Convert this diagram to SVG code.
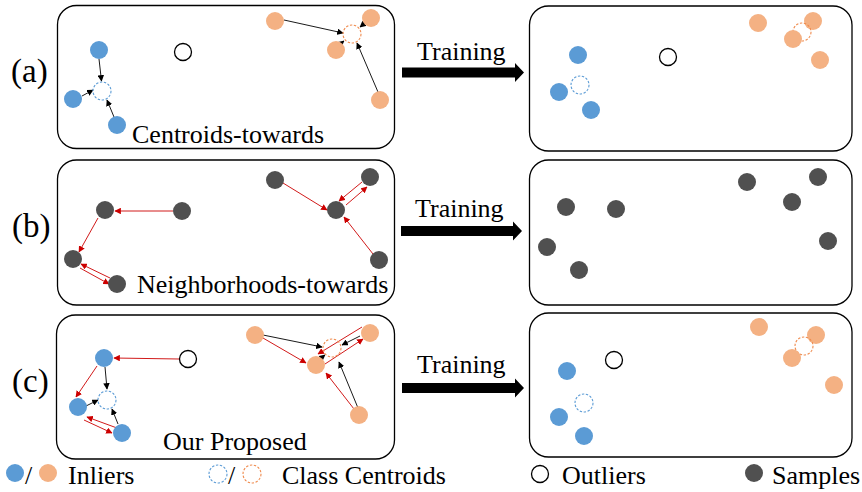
<svg xmlns="http://www.w3.org/2000/svg" width="862" height="492" viewBox="0 0 862 492">
<style>
text{font-family:"Liberation Serif","Times New Roman",serif;fill:#000}
.t{font-size:26px}
.lab{font-size:33px}
.box{fill:#fff;stroke:#000;stroke-width:1.3}
.b{fill:#5b9bd5}
.o{fill:#f4b183}
.g{fill:#505050}
.out{fill:#fff;stroke:#000;stroke-width:1.3}
.cb{fill:none;stroke:#5b9bd5;stroke-width:1.1;stroke-dasharray:2.4 1.6}
.co{fill:none;stroke:#ef8a4c;stroke-width:1.1;stroke-dasharray:2.4 1.6}
.k{stroke:#000;stroke-width:0.9;fill:none;marker-end:url(#ak)}
.r{stroke:#cc0000;stroke-width:0.9;fill:none;marker-end:url(#ar)}
.big{fill:#000}
</style>
<defs>
<marker id="ak" viewBox="0 0 10 10" refX="9" refY="5" markerWidth="6.5" markerHeight="6.5" markerUnits="userSpaceOnUse" orient="auto"><path d="M0,0 L10,5 L0,10 z" fill="#000"/></marker>
<marker id="ar" viewBox="0 0 10 10" refX="9" refY="5" markerWidth="6.5" markerHeight="6.5" markerUnits="userSpaceOnUse" orient="auto"><path d="M0,0 L10,5 L0,10 z" fill="#cc0000"/></marker>
</defs>

<!-- panels -->
<g id="panel-a-left"><rect class="box" x="57.5" y="5.5" width="337" height="143" rx="19"/></g>
<g id="panel-a-right"><rect class="box" x="529.5" y="6" width="322.5" height="145" rx="19"/></g>
<g id="panel-b-left"><rect class="box" x="57.5" y="160" width="337" height="145" rx="19"/></g>
<g id="panel-b-right"><rect class="box" x="529.5" y="160" width="322.5" height="145" rx="19"/></g>
<g id="panel-c-left"><rect class="box" x="56.5" y="315" width="338" height="144" rx="19"/></g>
<g id="panel-c-right"><rect class="box" x="529.5" y="313" width="322.5" height="144" rx="19"/></g>

<!-- row labels -->
<g id="label-a"><text class="lab" x="11" y="82">(a)</text></g>
<g id="label-b"><text class="lab" x="12" y="237">(b)</text></g>
<g id="label-c"><text class="lab" x="12" y="392">(c)</text></g>

<g id="connectors">
  <!-- (a) left -->
  <line class="k" x1="99" y1="59" x2="101.5" y2="81"/>
  <line class="k" x1="82" y1="96" x2="93" y2="90"/>
  <line class="k" x1="114" y1="117" x2="107" y2="100"/>
  <line class="k" x1="284" y1="20" x2="343" y2="33"/>
  <line class="k" x1="366" y1="22" x2="360" y2="27"/>
  <line class="k" x1="339" y1="45" x2="344" y2="41"/>
  <line class="k" x1="378" y1="92" x2="357" y2="43"/>
  <!-- (b) left -->
  <line class="r" x1="173" y1="211" x2="115" y2="211"/>
  <line class="r" x1="98" y1="218" x2="79" y2="252"/>
  <line class="r" x1="110" y1="278" x2="81" y2="264"/>
  <line class="r" x1="80" y1="268" x2="109" y2="284"/>
  <line class="r" x1="283" y1="183" x2="327" y2="210"/>
  <line class="r" x1="362" y1="182" x2="339" y2="201"/>
  <line class="r" x1="346" y1="205" x2="367" y2="187"/>
  <line class="r" x1="373" y1="254" x2="344" y2="217"/>
  <!-- (c) left, blue -->
  <line class="r" x1="179" y1="359" x2="114" y2="358"/>
  <line class="r" x1="97" y1="366" x2="76" y2="397"/>
  <line class="k" x1="105" y1="367" x2="107" y2="389"/>
  <line class="k" x1="86" y1="406" x2="98" y2="400"/>
  <line class="k" x1="118" y1="424" x2="112" y2="409"/>
  <line class="r" x1="117" y1="428" x2="87" y2="417"/>
  <line class="r" x1="84" y1="420" x2="112" y2="433"/>
  <!-- (c) left, orange -->
  <line class="k" x1="263" y1="335" x2="322" y2="347"/>
  <line class="r" x1="263" y1="338" x2="306" y2="363"/>
  <line class="r" x1="362" y1="327" x2="318" y2="354"/>
  <line class="r" x1="325" y1="364" x2="363" y2="339"/>
  <line class="k" x1="360" y1="336" x2="342" y2="345"/>
  <line class="k" x1="320" y1="359" x2="325" y2="355"/>
  <line class="k" x1="358" y1="408" x2="339" y2="362"/>
  <line class="r" x1="354" y1="409" x2="326" y2="373"/>
  <!-- training arrows -->
  <path class="big" d="M402,67.5 H515 V63 L524,72.5 L515,82 V77.5 H402 Z"/>
  <path class="big" d="M401,226 H513 V221.5 L522,231 L513,240.5 V236 H401 Z"/>
  <path class="big" d="M402,383 H515 V378.5 L524,388 L515,397.5 V393 H402 Z"/>
</g>

<!-- training labels -->
<g id="training-a"><text class="t" x="417" y="60">Training</text></g>
<g id="training-b"><text class="t" x="415" y="217">Training</text></g>
<g id="training-c"><text class="t" x="417" y="373">Training</text></g>

<!-- (a) left nodes -->
<g id="a-l-b1"><circle class="b" cx="99" cy="50" r="9"/></g>
<g id="a-l-b2"><circle class="b" cx="73" cy="99" r="9"/></g>
<g id="a-l-b3"><circle class="b" cx="117" cy="125" r="9"/></g>
<g id="a-l-cb"><circle class="cb" cx="102" cy="91" r="9"/></g>
<g id="a-l-out"><circle class="out" cx="183" cy="52" r="8.5"/></g>
<g id="a-l-o1"><circle class="o" cx="275" cy="21" r="9"/></g>
<g id="a-l-o2"><circle class="o" cx="371" cy="18" r="9"/></g>
<g id="a-l-co"><circle class="co" cx="352" cy="34" r="9"/></g>
<g id="a-l-o3"><circle class="o" cx="336" cy="50" r="9"/></g>
<g id="a-l-o4"><circle class="o" cx="380" cy="100" r="9"/></g>
<g id="a-l-text"><text class="t" x="132" y="143">Centroids-towards</text></g>

<!-- (a) right nodes -->
<g id="a-r-o1"><circle class="o" cx="758" cy="23" r="9"/></g>
<g id="a-r-o2"><circle class="o" cx="813" cy="21" r="9"/></g>
<g id="a-r-co"><circle class="co" cx="802" cy="32" r="9"/></g>
<g id="a-r-o3"><circle class="o" cx="793" cy="39" r="9"/></g>
<g id="a-r-o4"><circle class="o" cx="820" cy="60" r="9"/></g>
<g id="a-r-b1"><circle class="b" cx="578" cy="55" r="9"/></g>
<g id="a-r-out"><circle class="out" cx="668" cy="57" r="8.5"/></g>
<g id="a-r-cb"><circle class="cb" cx="580" cy="85" r="9"/></g>
<g id="a-r-b2"><circle class="b" cx="559" cy="92" r="9"/></g>
<g id="a-r-b3"><circle class="b" cx="591" cy="110" r="9"/></g>

<!-- (b) left nodes -->
<g id="b-l-1"><circle class="g" cx="105" cy="210" r="9"/></g>
<g id="b-l-2"><circle class="g" cx="182" cy="211" r="9"/></g>
<g id="b-l-3"><circle class="g" cx="73" cy="259" r="9"/></g>
<g id="b-l-4"><circle class="g" cx="117" cy="284" r="9"/></g>
<g id="b-l-5"><circle class="g" cx="275" cy="180" r="9"/></g>
<g id="b-l-6"><circle class="g" cx="370" cy="177" r="9"/></g>
<g id="b-l-7"><circle class="g" cx="336" cy="210" r="9"/></g>
<g id="b-l-8"><circle class="g" cx="379" cy="260" r="9"/></g>
<g id="b-l-text"><text class="t" x="137" y="293">Neighborhoods-towards</text></g>

<!-- (b) right nodes -->
<g id="b-r-1"><circle class="g" cx="566" cy="207" r="9"/></g>
<g id="b-r-2"><circle class="g" cx="616" cy="209" r="9"/></g>
<g id="b-r-3"><circle class="g" cx="547" cy="247" r="9"/></g>
<g id="b-r-4"><circle class="g" cx="579" cy="270" r="9"/></g>
<g id="b-r-5"><circle class="g" cx="747" cy="182" r="9"/></g>
<g id="b-r-6"><circle class="g" cx="818" cy="177" r="9"/></g>
<g id="b-r-7"><circle class="g" cx="792" cy="202" r="9"/></g>
<g id="b-r-8"><circle class="g" cx="828" cy="241" r="9"/></g>

<!-- (c) left nodes -->
<g id="c-l-b1"><circle class="b" cx="104" cy="358" r="9"/></g>
<g id="c-l-out"><circle class="out" cx="188" cy="359" r="8.5"/></g>
<g id="c-l-cb"><circle class="cb" cx="107" cy="400" r="9"/></g>
<g id="c-l-b2"><circle class="b" cx="78" cy="407" r="9"/></g>
<g id="c-l-b3"><circle class="b" cx="122" cy="433" r="9"/></g>
<g id="c-l-o1"><circle class="o" cx="255" cy="335" r="9"/></g>
<g id="c-l-o2"><circle class="o" cx="370" cy="333" r="9"/></g>
<g id="c-l-co"><circle class="co" cx="332" cy="348" r="9"/></g>
<g id="c-l-o3"><circle class="o" cx="316" cy="365" r="9"/></g>
<g id="c-l-o4"><circle class="o" cx="359" cy="415" r="9"/></g>
<g id="c-l-text"><text class="t" x="163" y="450">Our Proposed</text></g>

<!-- (c) right nodes -->
<g id="c-r-o1"><circle class="o" cx="759" cy="327" r="9"/></g>
<g id="c-r-o2"><circle class="o" cx="816" cy="335" r="9"/></g>
<g id="c-r-co"><circle class="co" cx="804" cy="346" r="9"/></g>
<g id="c-r-o3"><circle class="o" cx="792" cy="358" r="9"/></g>
<g id="c-r-o4"><circle class="o" cx="834" cy="385" r="9"/></g>
<g id="c-r-out"><circle class="out" cx="614" cy="360" r="8.5"/></g>
<g id="c-r-b1"><circle class="b" cx="567" cy="371" r="9"/></g>
<g id="c-r-cb"><circle class="cb" cx="584" cy="403" r="9"/></g>
<g id="c-r-b2"><circle class="b" cx="559" cy="417" r="9"/></g>
<g id="c-r-b3"><circle class="b" cx="584" cy="436" r="9"/></g>

<!-- legend -->
<g id="legend-inliers">
  <circle class="b" cx="15" cy="473" r="9"/>
  <text class="t" x="25" y="484">/</text>
  <circle class="o" cx="48" cy="473" r="9"/>
  <text class="t" x="68" y="484">Inliers</text>
</g>
<g id="legend-centroids">
  <circle class="cb" cx="218" cy="474" r="9"/>
  <text class="t" x="228" y="484">/</text>
  <circle class="co" cx="252" cy="474" r="9"/>
  <text class="t" x="282" y="484">Class Centroids</text>
</g>
<g id="legend-outliers">
  <circle class="out" cx="540" cy="474" r="8.5"/>
  <text class="t" x="562" y="484">Outliers</text>
</g>
<g id="legend-samples">
  <circle class="g" cx="754" cy="473" r="9"/>
  <text class="t" x="772" y="484">Samples</text>
</g>
</svg>
